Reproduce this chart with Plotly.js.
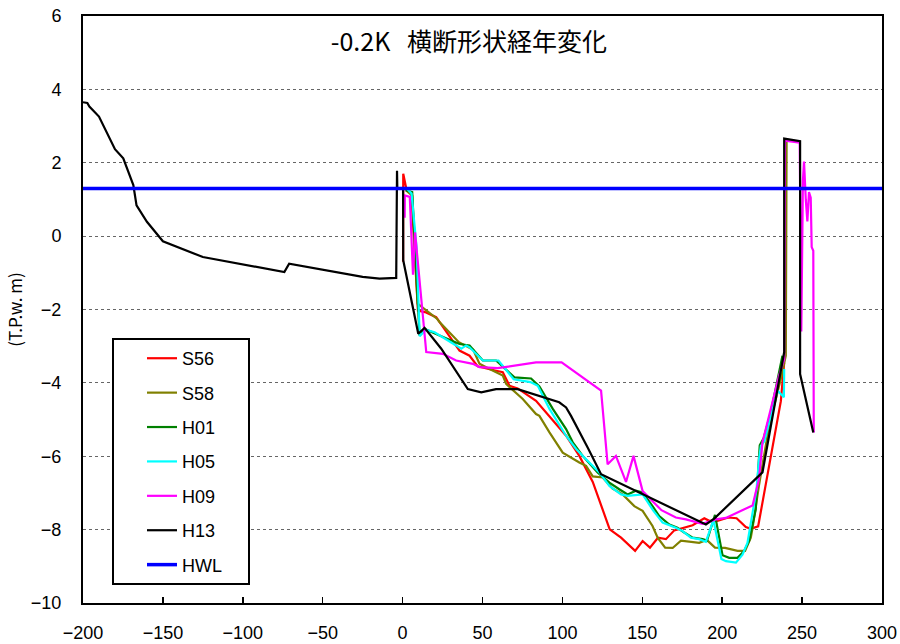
<!DOCTYPE html>
<html>
<head>
<meta charset="utf-8">
<script src="https://cdn.plot.ly/plotly-3.0.1.min.js"></script>
<style>html,body{margin:0;padding:0;background:#fff;}#chart{width:900px;height:644px;}</style>
</head>
<body>
<div id="chart"></div>
<script>
// ---- data (distance from left bank [m], elevation T.P. [m]) ----
const s56X = [0.3,0.4,2.5,5.5,9.6,12.7,14,21,25.2,35.6,41.9,47,58.5,62.7,66.9,72,83.5,89.8,102.3,110.6,119,129.6,136.7,145.5,150.2,154.8,159.8,164.8,170,181.5,188.8,191.9,197,203.8,209,214.8,217.9,222.5,227.3,232.5,236.7,238.8];
const s56Y = [-0.7,1.7,1.25,1.15,-2.03,-2.07,-2.07,-2.21,-2.48,-3.12,-3.26,-3.55,-3.67,-3.71,-4.08,-4.15,-4.49,-4.8,-5.44,-5.99,-6.7,-7.99,-8.22,-8.58,-8.31,-8.49,-8.22,-8.26,-8.02,-7.88,-7.69,-7.76,-7.76,-7.67,-7.69,-7.93,-7.98,-7.91,-6.78,-5.53,-4.5,-3.45];

const s58X = [2,6,9.4,21.5,23.1,35.2,44.2,48.1,54.4,62.7,64.8,73.1,75.2,83.5,85.6,91.9,97,100.2,110.6,114.8,119,125.2,131.4,137.7,145,150.2,156.4,159.6,164.3,169,174.2,185.6,190.3,195.5,201.8,209.6,214.3,217.9,219,223,229.4,236.7,239.8,240.3];
const s58Y = [1.25,1.1,-1.84,-2.25,-2.34,-2.89,-3.1,-3.48,-3.62,-3.8,-4.03,-4.35,-4.44,-4.85,-4.9,-5.35,-5.7,-5.9,-6.17,-6.26,-6.55,-6.58,-6.88,-7.04,-7.36,-7.49,-7.9,-8.22,-8.49,-8.5,-8.3,-8.36,-8.28,-8.49,-8.5,-8.58,-8.58,-8.22,-7.95,-6.8,-5.17,-3.89,-3.26,2.6];

const h01X = [2,6,10.6,13.75,23.1,35.6,41.9,50.2,58.5,70,80.4,85.6,94,102.3,106.5,112.7,122,129.4,135.6,140.8,146,150.2,156.4,160.6,166.9,172,176.25,181.5,187.7,190.5,195.5,200.2,204.4,209.6,213.75,216.9,221,223.5,226,230.4,235.6,237.7];
const h01Y = [1.25,1.2,-2.71,-2.53,-2.71,-2.94,-2.98,-3.39,-3.39,-3.85,-3.88,-4.1,-4.71,-5.26,-5.62,-5.99,-6.44,-6.72,-6.9,-7.04,-6.94,-6.99,-7.36,-7.63,-7.86,-7.95,-8.08,-8.22,-8.26,-8.3,-7.6,-8.7,-8.77,-8.77,-8.58,-8.3,-7.45,-5.7,-5.5,-4.8,-3.71,-3.26];

const h05X = [2.5,5.6,8.75,9.8,10.7,14.5,20,33.5,36.7,39.8,41.9,50.2,60,69.5,80,84.6,91.9,102.3,108.6,114.8,123.1,129.4,136.7,140.8,150.2,157,162.7,171,175.2,180.4,185.6,189.8,194.5,199.5,202.3,208.6,212.7,215.8,219,221.5,223,224.2,226.3,234.6,238.6,238.8];
const h05Y = [1.3,1.16,-0.3,-1.84,-2.73,-2.55,-2.62,-2.98,-3.07,-2.98,-3.03,-3.39,-3.39,-3.9,-3.98,-4.08,-4.71,-5.44,-5.8,-6.08,-6.44,-6.81,-7.04,-7.08,-7.04,-7.49,-7.81,-7.95,-8.04,-8.22,-8.26,-8.33,-7.74,-8.8,-8.86,-8.9,-8.68,-8.36,-7.54,-6.9,-6.1,-5.72,-5.6,-4.21,-4.39,-3.62];

const h09X = [1.3,1.4,4.5,6.5,7.8,14.8,25.2,33.5,44,48.1,59.5,83.5,99.5,124.2,128.3,133.5,139.8,144.5,150.2,162,171,177.3,187.7,196,202.3,219,223,225.2,228.3,235.6,238.8,239.3,248.5,249.5,250.5,251.2,252.3,253.3,254.3,255.4,256,257,257.3];
const h09Y = [0.5,1.11,1.07,-1.05,0.1,-3.16,-3.21,-3.39,-3.48,-3.57,-3.6,-3.44,-3.44,-4.21,-6.22,-5.99,-6.7,-5.99,-6.95,-7.47,-7.67,-7.72,-7.84,-7.72,-7.68,-7.34,-6.63,-5.62,-5.08,-3.8,-3.35,2.6,2.55,-2.6,1.5,2.03,1.0,0.4,1.2,1.05,-0.3,-0.4,-5.35];

const h13X = [-200,-197.3,-196,-190,-180,-174.8,-168.5,-166.5,-160,-150,-125,-74,-71,-25,-14.4,-4,-3.5,-3.3,0.3,0.4,9.8,13.75,24.2,40.8,49.2,58.5,72,85.6,98,102.3,105.4,115.8,124.2,189.8,195,225.2,238.8,238.8,248.75,248.75,257];
const h13Y = [3.65,3.63,3.53,3.26,2.37,2.12,1.39,0.84,0.39,-0.14,-0.57,-0.98,-0.75,-1.11,-1.16,-1.14,1.78,1.3,1.3,-0.66,-2.66,-2.5,-3.07,-4.17,-4.26,-4.17,-4.17,-4.35,-4.53,-4.67,-4.9,-5.76,-6.49,-7.86,-7.7,-6.44,-3.16,2.66,2.59,-3.76,-5.35];

const hwlX = [-200, 300];
const hwlY = [1.3, 1.3];

const seriesNames = ['S56','S58','H01','H05','H09','H13','HWL'];
const seriesColors = ['#FF0000','#808000','#008000','#00FFFF','#FF00FF','#000000','#0000FF'];
const seriesX = [s56X,s58X,h01X,h05X,h09X,h13X,hwlX];
const seriesY = [s56Y,s58Y,h01Y,h05Y,h09Y,h13Y,hwlY];

const titleText = '-0.2K\u00a0\u00a0\u00a0横断形状経年変化';
const yTitleText = '(T.P.w. m)';
const legendPad = '\u00a0\u00a0\u00a0\u00a0';

const traces = seriesNames.map((n,i) => ({
  type: 'scatter', mode: 'lines',
  x: seriesX[i], y: seriesY[i],
  name: n + legendPad, legendgroup: n,
  line: {color: seriesColors[i], width: n === 'HWL' ? 3.5 : 2.2}
}));

const font = 'Liberation Sans, Arial, "Noto Sans CJK JP", sans-serif';

const layout = {
  width: 900, height: 644,
  margin: {l: 83, r: 18, t: 16, b: 41},
  paper_bgcolor: '#fff', plot_bgcolor: '#fff',
  font: {family: font, size: 18, color: '#000'},
  title: {
    text: titleText,
    font: {family: '"Noto Sans CJK JP", sans-serif', size: 25, color: '#000'},
    x: 0.483, xanchor: 'center', xref: 'paper',
    y: 0.955, yanchor: 'middle', yref: 'paper'
  },
  showlegend: true,
  legend: {
    x: 0.0363, y: 0.4514, xanchor: 'left', yanchor: 'top',
    bgcolor: '#fff', bordercolor: '#000', borderwidth: 2,
    font: {family: font, size: 18, color: '#000'},
    traceorder: 'grouped', tracegroupgap: 8, indentation: 28
  },
  xaxis: {
    range: [-200, 300], dtick: 50, tick0: 0,
    showgrid: false, zeroline: false,
    showline: true, linecolor: '#000', linewidth: 2, mirror: true,
    ticks: 'inside', ticklen: 6, tickwidth: 1.5, tickcolor: '#000',
    ticklabelstandoff: 12,
    tickfont: {family: font, size: 18, color: '#000'}
  },
  yaxis: {
    range: [-10, 6], dtick: 2, tick0: 0,
    showgrid: true, gridcolor: '#666666', gridwidth: 1, griddash: 'dot',
    zeroline: false,
    showline: true, linecolor: '#000', linewidth: 2, mirror: true,
    ticks: '', ticklabelstandoff: 16,
    tickfont: {family: font, size: 18, color: '#000'},
    title: {text: yTitleText, font: {family: '"Noto Sans CJK JP", sans-serif', size: 17, color: '#000'}, standoff: 4}
  }
};

Plotly.newPlot('chart', traces, layout, {displayModeBar: false, staticPlot: true});
</script>
</body>
</html>
